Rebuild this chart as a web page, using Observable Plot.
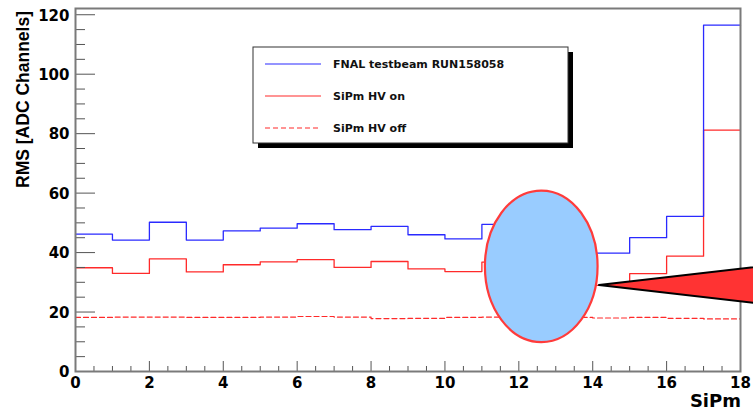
<!DOCTYPE html>
<html>
<head>
<meta charset="utf-8">
<script src="https://cdn.jsdelivr.net/npm/d3@7"></script>
<script src="https://cdn.jsdelivr.net/npm/@observablehq/plot@0.6"></script>
<style>
  html, body { margin: 0; padding: 0; background: white; }
  #chart svg { display: block; }
</style>
</head>
<body>
<div id="chart"></div>
<script>
// ---- data ----
const sipm = [0, 1, 2, 3, 4, 5, 6, 7, 8, 9, 10, 11, 12, 13, 14, 15, 16, 17]; // bin low edges
const xMax = 18;
const fnalTestbeam = [46.2, 44.2, 50.2, 44.2, 47.3, 48.2, 49.7, 47.7, 48.8, 46.0, 44.6, 49.5, 48.5, 42.0, 39.8, 45.0, 52.2, 116.5];
const hvOn        = [34.9, 33.0, 37.9, 33.5, 35.9, 36.9, 37.6, 35.0, 37.0, 34.5, 33.6, 36.8, 36.0, 31.5, 29.0, 32.9, 38.8, 81.2];
const hvOff       = [18.2, 18.3, 18.3, 18.2, 18.2, 18.3, 18.5, 18.3, 17.8, 17.9, 18.2, 18.3, 18.3, 18.2, 18.0, 18.2, 17.9, 17.7];
const seriesNames = ["FNAL testbeam RUN158058", "SiPm HV on", "SiPm HV off"];
const xTickLabels = [0, 2, 4, 6, 8, 10, 12, 14, 16, 18];
const yTickLabels = [0, 20, 40, 60, 80, 100, 120];
const yTitle = "RMS [ADC Channels]";
const xTitle = "SiPm";
// annotation shapes (data coordinates)
const ellipseShape = {cx: 12.62, cy: 35.2, rx: 1.525, ry: 25.5};
const triangleShape = [{x: 14.17, y: 29.1}, {x: 20, y: 37.4}, {x: 20, y: 20.7}, {x: 14.17, y: 29.1}];

// ---- layout ----
const W = 753, H = 412;
const mL = 75, mR = 13, mT = 8, mB = 41;
const plotW = W - mL - mR, plotH = H - mT - mB;

const steps = vals => [...vals.map((v, i) => ({x: sipm[i], v})), {x: xMax, v: vals[vals.length - 1]}];

const blueC = "#2a2aff", redC = "#ff2a2a";
const tickC = "#555";
const font = "DejaVu Sans";

const xMinor = d3.range(0, xMax + 0.001, 0.5).filter(d => d % 2 !== 0);
const yMinor = d3.range(0, 122, 5).filter(d => d % 20 !== 0);

function ellipseMark(index, scales) {
  const x = scales.x, y = scales.y;
  const cx = x(ellipseShape.cx), cy = y(ellipseShape.cy);
  const rx = Math.abs(x(ellipseShape.cx + ellipseShape.rx) - cx);
  const ry = Math.abs(y(ellipseShape.cy + ellipseShape.ry) - cy);
  return d3.create("svg:ellipse")
    .attr("cx", cx).attr("cy", cy).attr("rx", rx).attr("ry", ry)
    .attr("fill", "#99ccff").attr("stroke", "#ff3b3b").attr("stroke-width", 2.2)
    .node();
}

function legendMark() {
  const g = d3.create("svg:g").attr("text-anchor", "start");
  const bx = 253, by = 47, bw = 315, bh = 96, sh = 5;
  g.append("rect").attr("x", bx + sh).attr("y", by + sh).attr("width", bw).attr("height", bh).attr("fill", "black");
  g.append("rect").attr("x", bx).attr("y", by).attr("width", bw).attr("height", bh)
    .attr("fill", "white").attr("stroke", "#333").attr("stroke-width", 1);
  const rows = [
    {name: seriesNames[0], color: blueC, dash: "none"},
    {name: seriesNames[1], color: redC, dash: "none"},
    {name: seriesNames[2], color: redC, dash: "5,3"}
  ];
  rows.forEach((r, i) => {
    const yy = 64 + i * 32;
    g.append("line").attr("x1", 265).attr("x2", 321).attr("y1", yy).attr("y2", yy)
      .attr("stroke", r.color).attr("stroke-width", 1.2).attr("stroke-dasharray", r.dash);
    g.append("text").attr("x", 333).attr("y", yy).attr("dy", "0.36em")
      .attr("text-anchor", "start")
      .attr("font-family", font).attr("font-weight", "bold").attr("font-size", 11)
      .attr("fill", "#111").text(r.name);
  });
  return g.node();
}

function titlesMark() {
  const g = d3.create("svg:g");
  g.append("text")
    .attr("transform", `translate(29,11) rotate(-90)`)
    .attr("text-anchor", "end")
    .attr("font-family", "Liberation Sans").attr("font-weight", "bold").attr("font-size", 17.5)
    .attr("fill", "black").text(yTitle);
  g.append("text")
    .attr("x", 741).attr("y", 407).attr("text-anchor", "end")
    .attr("font-family", font).attr("font-weight", "bold").attr("font-size", 18)
    .attr("fill", "black").text(xTitle);
  return g.node();
}

const chart = Plot.plot({
  width: W, height: H,
  marginLeft: mL, marginRight: mR, marginTop: mT, marginBottom: mB,
  x: {domain: [0, xMax], axis: null},
  y: {domain: [0, 122.1], axis: null},
  style: {fontFamily: font, background: "white", color: "black"},
  marks: [
    Plot.line(steps(hvOff), {x: "x", y: "v", curve: "step-after", stroke: redC, strokeWidth: 1.2, strokeDasharray: "5,3"}),
    Plot.line(steps(hvOn), {x: "x", y: "v", curve: "step-after", stroke: redC, strokeWidth: 1.3}),
    Plot.line(steps(fnalTestbeam), {x: "x", y: "v", curve: "step-after", stroke: blueC, strokeWidth: 1.3}),
    // ticks (inside the frame, ROOT style)
    Plot.tickX(xTickLabels, {x: d => d, insetTop: plotH - 10, stroke: tickC, strokeWidth: 1}),
    Plot.tickX(xMinor, {x: d => d, insetTop: plotH - 5, stroke: tickC, strokeWidth: 1}),
    Plot.tickY(yTickLabels, {y: d => d, insetRight: plotW - 20, stroke: tickC, strokeWidth: 1}),
    Plot.tickY(yMinor, {y: d => d, insetRight: plotW - 10, stroke: tickC, strokeWidth: 1}),
    Plot.frame({stroke: "#7a7a7a", strokeWidth: 2}),
    // tick labels
    Plot.text(xTickLabels, {x: d => d, frameAnchor: "bottom", lineAnchor: "top", dy: 6, text: d => String(d),
      fontSize: 15, fontWeight: "bold", fill: "black"}),
    Plot.text(yTickLabels, {y: d => d, frameAnchor: "left", textAnchor: "end", dx: -6, dy: 1, text: d => String(d),
      fontSize: 15, fontWeight: "bold", fill: "black"}),
    ellipseMark,
    Plot.line(triangleShape, {x: "x", y: "y", fill: "#ff3333", stroke: "black", strokeWidth: 2, strokeLinejoin: "miter", curve: "linear"}),
    legendMark,
    titlesMark
  ]
});
document.getElementById("chart").appendChild(chart);
</script>
</body>
</html>
